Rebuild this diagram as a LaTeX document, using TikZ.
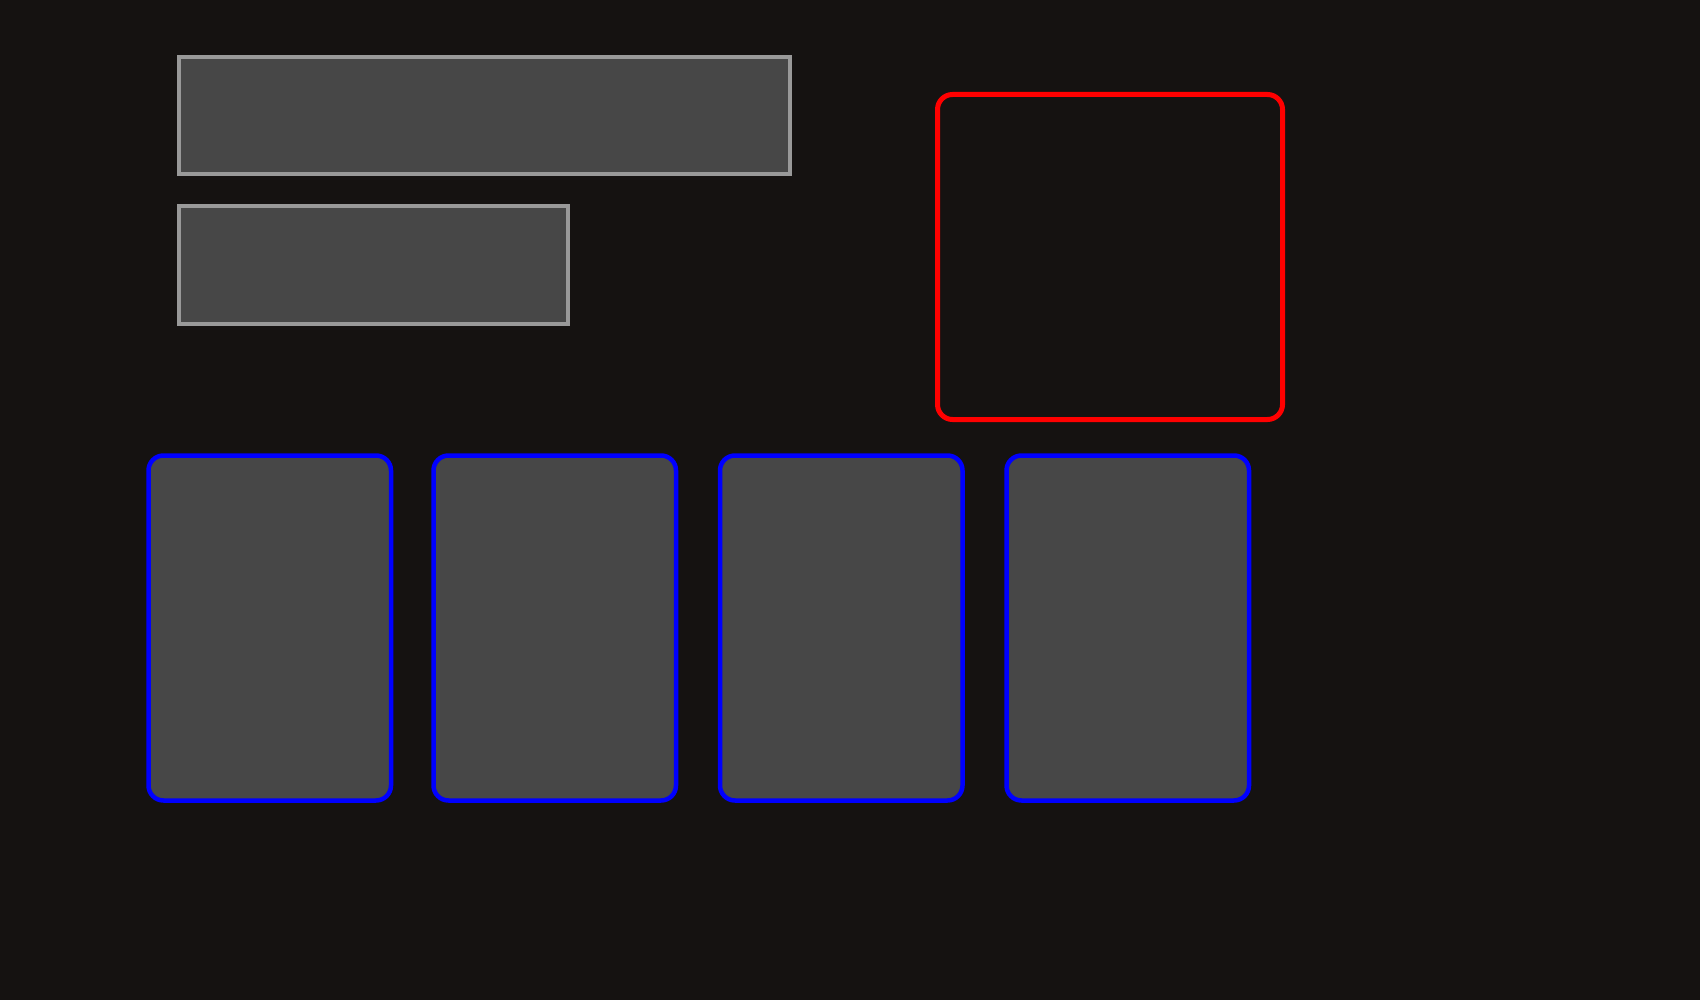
\documentclass[tikz,border=0pt]{standalone}
\usepackage{tikz}
\definecolor{bgc}{HTML}{151211}
\definecolor{fillc}{HTML}{474747}
\definecolor{grayc}{HTML}{999999}
\definecolor{redc}{HTML}{FF0000}
\definecolor{bluec}{HTML}{0000FF}
\tikzset{
  bar/.style={draw=grayc, fill=fillc, line width=4pt},
  panel/.style={draw=redc, fill=bgc, line width=5pt, rounded corners=15pt},
  card/.style={draw=bluec, fill=fillc, line width=4.5pt, rounded corners=15pt}
}
\begin{document}
\begin{tikzpicture}[x=1pt,y=-1pt]
\fill[bgc] (0,0) rectangle (1700,1000);
\useasboundingbox (0,0) rectangle (1700,1000);
\draw[bar] (179,57) rectangle (790,174);
\draw[bar] (179,206) rectangle (568,324);
\draw[panel] (937.5,94.5) rectangle (1282.5,419.5);
\draw[card] (148.5,455.5) rectangle (391,800.5);
\draw[card] (433.5,455.5) rectangle (676,800.5);
\draw[card] (720,455.5) rectangle (962.5,800.5);
\draw[card] (1006.5,455.5) rectangle (1249,800.5);
\end{tikzpicture}
\end{document}
